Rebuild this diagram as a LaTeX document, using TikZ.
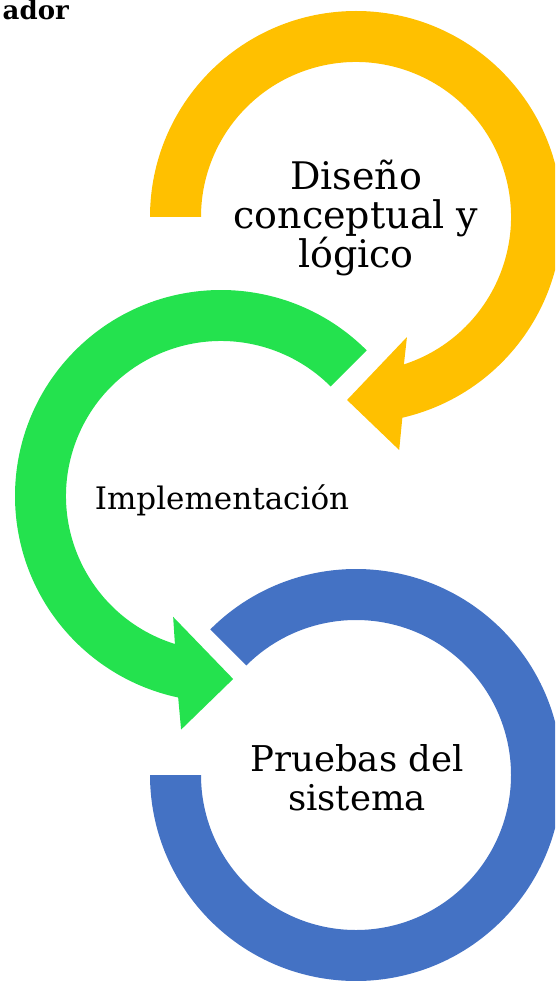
\documentclass[tikz,border=0pt]{standalone}
\usepackage{fontspec}
\setmainfont{DejaVu Serif}
\usetikzlibrary{calc}
\definecolor{ygold}{RGB}{255,192,0}
\definecolor{cgreen}{RGB}{36,226,78}
\definecolor{cblue}{RGB}{68,114,196}
\begin{document}
\begin{tikzpicture}[x=1pt,y=1pt,
  lbl/.style={inner sep=0pt, text=black, align=center, anchor=base}]
\useasboundingbox (0,0) rectangle (555,-981);
\clip (0,0) rectangle (555,-981);
\coordinate (Y) at (356,-217);
\coordinate (G) at (221,-496);
\coordinate (B) at (356,-775);
% blue ring
\fill[cblue] ($(B)+(135:206)$) arc[start angle=135, end angle=-180, radius=206]
  -- ($(B)+(180:155)$) arc[start angle=-180, end angle=135, radius=155] -- cycle;
% green arrow
\fill[cgreen] ($(G)+(45:206)$) arc[start angle=45, end angle=258, radius=206]
  -- ($(G)+(260.3:237)$) -- ($(G)+(273.8:183.4)$) -- ($(G)+(248.4:130)$) -- ($(G)+(252.7:155)$)
  arc[start angle=252.7, end angle=45, radius=155] -- cycle;
% yellow arrow
\fill[ygold] ($(Y)+(180:206)$) arc[start angle=180, end angle=-77, radius=206]
  -- ($(Y)+(-79.5:237)$) -- ($(Y)+(-92.8:183.2)$) -- ($(Y)+(-67:130.4)$) -- ($(Y)+(-72:155)$)
  arc[start angle=-72, end angle=180, radius=155] -- cycle;
% texts
\node[lbl, font=\fontsize{38}{38.7}\selectfont] (t1) at (356,-268) {Diseño\\conceptual y\\lógico};
\node[lbl, font=\fontsize{31}{34}\selectfont] (t2) at (222,-509) {Implementación};
\node[lbl, font=\fontsize{35.5}{38.3}\selectfont] (t3) at (357,-810) {Pruebas del\\sistema};
\node[inner sep=0pt, anchor=base east, font=\bfseries\fontsize{26}{30}\selectfont] (t0) at (69,-20) {ador};
\end{tikzpicture}
\end{document}
